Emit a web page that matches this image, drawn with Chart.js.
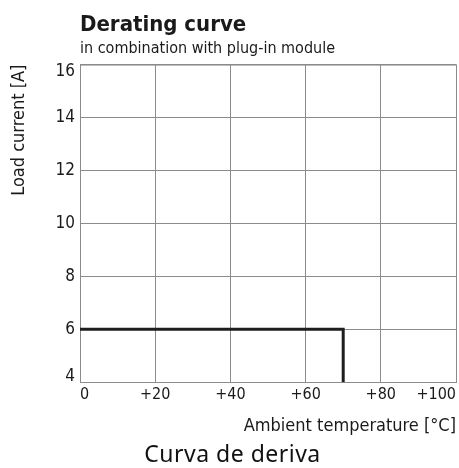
<!DOCTYPE html>
<html><head><meta charset="utf-8">
<script src="https://cdn.jsdelivr.net/npm/chart.js@4/dist/chart.umd.min.js"></script>
<style>
html,body{margin:0;padding:0;background:#fff;}
#wrap{position:relative;width:459px;height:468px;}
#footer{position:absolute;left:0;width:465px;top:438px;text-align:center;font-family:"Noto Sans",sans-serif;font-size:23px;letter-spacing:0.5px;line-height:30px;color:#111;}
</style></head>
<body>
<div id="wrap"><canvas id="c" width="459" height="468"></canvas><div id="footer">Curva de deriva</div></div>
<script>
const temperatures = [0, 70, 70];
const loadCurrents = [6, 6, 4];
const xTicks = [0, 20, 40, 60, 80, 100];
const yTicks = [4, 6, 8, 10, 12, 14, 16];
const titleText = 'Derating curve';
const subtitleText = 'in combination with plug-in module';
const xTitle = 'Ambient temperature [°C]';
const yTitle = 'Load current [A]';

const narrow = '"Liberation Sans Narrow","DejaVu Sans Condensed",sans-serif';
const gridCol = '#8c8c8c';

new Chart(document.getElementById('c'), {
  type: 'scatter',
  data: {
    datasets: [{
      data: temperatures.map((t, i) => ({x: t, y: loadCurrents[i]})),
      showLine: true,
      borderColor: '#1e1e1e',
      borderWidth: 3,
      pointRadius: 0,
      fill: false
    }]
  },
  options: {
    responsive: false,
    animation: false,
    layout: {padding: {left: 0, right: 2, top: 12, bottom: 31}},
    plugins: {
      legend: {display: false},
      tooltip: {enabled: false},
      title: {display: true, text: titleText, align: 'start', fullSize: false, color: '#1a1a1a',
        font: {family: narrow, size: 22, weight: 'bold'}, padding: {top: 0, bottom: 1}},
      subtitle: {display: true, text: subtitleText, align: 'start', fullSize: false, color: '#1a1a1a',
        font: {family: narrow, size: 16}, padding: {top: 0, bottom: 6}}
    },
    scales: {
      x: {
        type: 'linear', min: 0, max: 100,
        afterBuildTicks: s => { s.ticks = xTicks.map(v => ({value: v})); },
        ticks: {align: 'inner', color: '#1a1a1a', font: {family: narrow, size: 16}, padding: 3,
          maxRotation: 0, callback: v => v === 0 ? '0' : '+' + v},
        grid: {color: gridCol, lineWidth: 1, drawTicks: false},
        border: {color: gridCol, width: 1},
        title: {display: true, text: xTitle, align: 'end', color: '#1a1a1a',
          font: {family: narrow, size: 18}, padding: {top: 8, bottom: 0}}
      },
      y: {
        type: 'linear', min: 4, max: 16,
        afterBuildTicks: s => { s.ticks = yTicks.map(v => ({value: v})); },
        afterFit: s => { s.width = 80; },
        ticks: {color: '#1a1a1a', font: {family: narrow, size: 17}, padding: 5},
        grid: {color: gridCol, lineWidth: 1, drawTicks: false},
        border: {color: gridCol, width: 1},
        title: {display: true, text: yTitle, align: 'end', color: '#1a1a1a',
          font: {family: narrow, size: 18}, padding: {top: 9, bottom: 0}}
      }
    }
  },
  plugins: [{
    id: 'innerYLabels',
    beforeDraw(chart) {
      const s = chart.scales.y;
      const items = s.getLabelItems(chart.chartArea);
      if (!items.length) return;
      const first = items[0], last = items[items.length - 1];
      first.options.textBaseline = 'bottom';
      first.options.translation[1] += 3;
      last.options.textBaseline = 'top';
      last.options.translation[1] -= 2;
    }
  }, {
    id: 'frame',
    afterDraw(chart) {
      const {ctx, chartArea: a} = chart;
      ctx.save();
      ctx.strokeStyle = gridCol; ctx.lineWidth = 1;
      ctx.beginPath();
      ctx.moveTo(a.right + 0.5, a.top); ctx.lineTo(a.right + 0.5, a.bottom);
      ctx.moveTo(a.left, a.top + 0.5); ctx.lineTo(a.right, a.top + 0.5);
      ctx.stroke();
      ctx.restore();
    }
  }]
});
</script>
</body></html>
